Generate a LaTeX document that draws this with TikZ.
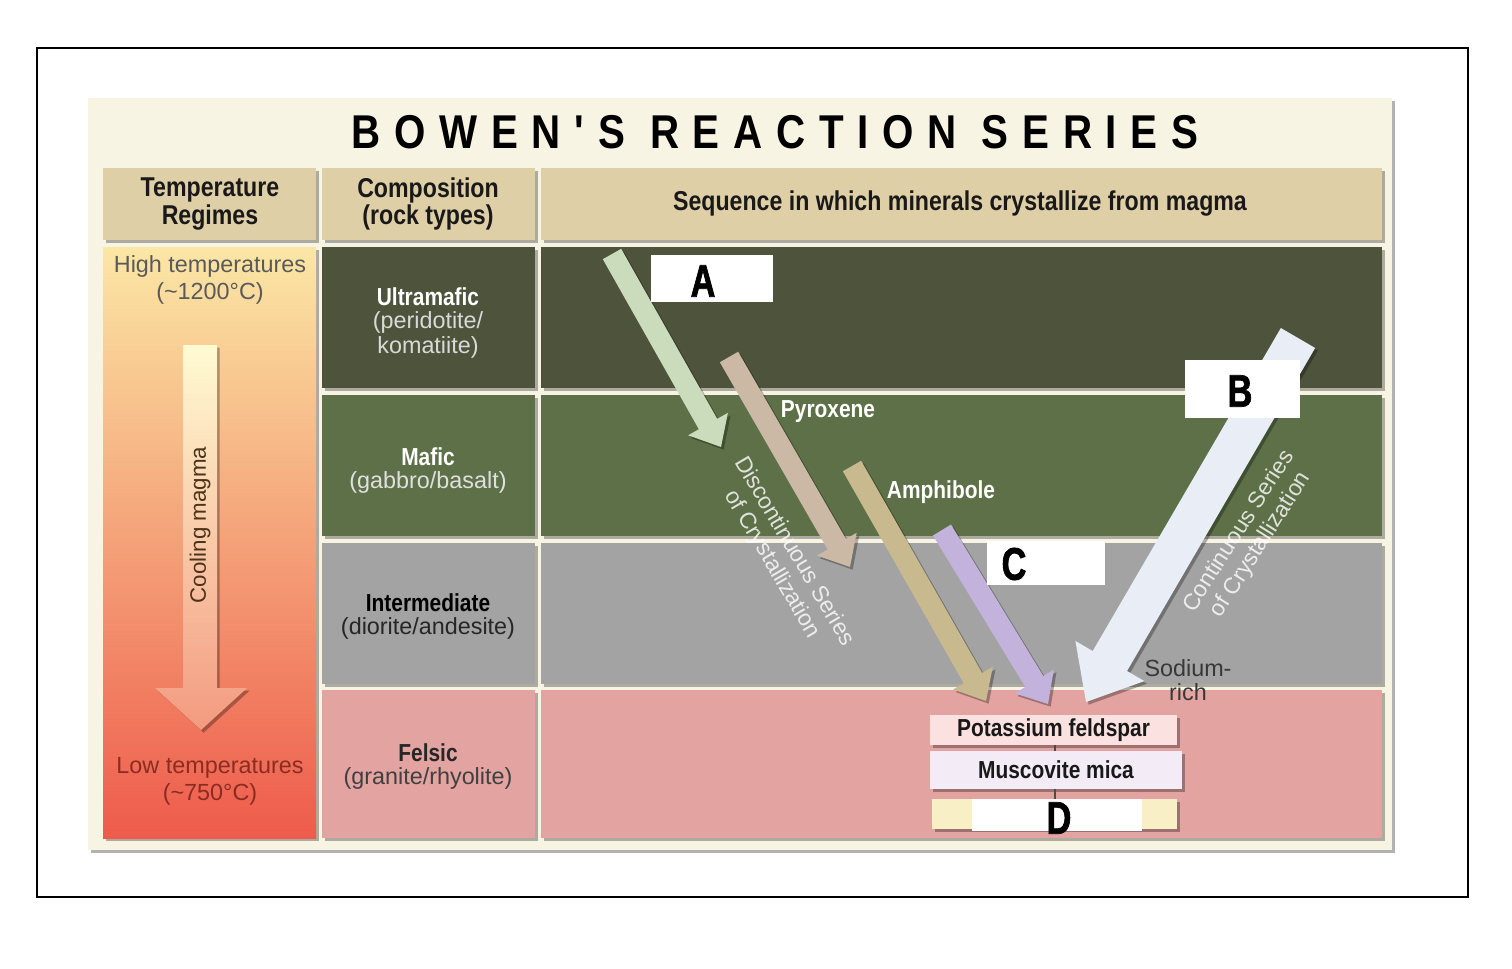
\documentclass[tikz,border=0pt]{standalone}
\usepackage{fontspec}
\setmainfont{Liberation Sans}
\newfontfamily\condfont[FakeStretch=0.85]{Liberation Sans}
\newfontfamily\titlefont[FakeStretch=0.85,LetterSpace=29]{Liberation Sans}
\newfontfamily\letterfont[FakeStretch=0.75,FakeBold=1.5]{Liberation Sans}
\usetikzlibrary{calc}
\usetikzlibrary{shadows}
\usetikzlibrary{positioning}

\definecolor{panelcream}{HTML}{F8F4E4}
\definecolor{headtan}{HTML}{DFCFA6}
\definecolor{ultragreen}{HTML}{4E543B}
\definecolor{maficgreen}{HTML}{5D7048}
\definecolor{intergray}{HTML}{A3A3A3}
\definecolor{felsicpink}{HTML}{E2A3A1}
\definecolor{temptop}{HTML}{FBE7A5}
\definecolor{tempmid}{HTML}{F5AE7D}
\definecolor{tempbot}{HTML}{EE5B4B}
\definecolor{cooltop}{HTML}{FFFBD2}
\definecolor{coolbot}{HTML}{F39A80}
\definecolor{olivinegreen}{HTML}{CADCBC}
\definecolor{pyroxenetan}{HTML}{CBB9A6}
\definecolor{amphiboletan}{HTML}{C9B98F}
\definecolor{biotitelilac}{HTML}{C3B3DC}
\definecolor{plagioclasewhite}{HTML}{E9EDF5}
\definecolor{hightext}{HTML}{5A5A5A}
\definecolor{lowtext}{HTML}{8B2C22}
\definecolor{kspar}{HTML}{FBE2E0}
\definecolor{muscovite}{HTML}{F3ECF6}
\definecolor{quartzyellow}{HTML}{F8EFC6}

% block arrow: style, from, to, half shaft, half head, head length
\newcommand{\crystarrow}[6]{%
    \coordinate (tipbase) at ($(#3)!#6!(#2)$);
    \fill[#1] ($(#2)!#4!90:(#3)$) -- ($(tipbase)!#4!90:(#3)$) -- ($(tipbase)!#5!90:(#3)$) -- (#3)
        -- ($(tipbase)!#5!-90:(#3)$) -- ($(tipbase)!#4!-90:(#3)$) -- ($(#2)!#4!-90:(#3)$) -- cycle;
}

\begin{document}
\begin{tikzpicture}[x=0.02cm, y=-0.02cm,
    cell/.style={drop shadow={shadow xshift=1.5pt, shadow yshift=-1.5pt, opacity=.3, fill=black}},
    headtext/.style={font=\condfont\bfseries\fontsize{15.5}{15.5}\selectfont, align=center, text=black!90},
    rockname/.style={font=\condfont\bfseries\fontsize{14}{14}\selectfont},
    rockdesc/.style={font=\fontsize{13.3}{14}\selectfont, align=center},
    tempdesc/.style={font=\fontsize{13.3}{15.3}\selectfont, align=center},
    mineral/.style={font=\condfont\bfseries\fontsize{14}{14}\selectfont, text=white},
    seriestext/.style={font=\fontsize{13}{14.5}\selectfont, align=center, text=white, text opacity=.8},
    blank/.style={fill=white},
    letter/.style={font=\letterfont\bfseries\fontsize{26}{26}\selectfont, text=black},
    mineralbox/.style={cell, font=\condfont\bfseries\fontsize{14}{14}\selectfont, text=black!90, inner sep=0pt}
]

    \useasboundingbox (0,0) rectangle (1512,968);
    \fill[white] (0,0) rectangle (1512,968);
    \draw[line width=1.6pt] (37,48) rectangle (1468,897);

    % panel and title
    \fill[panelcream, cell] (88,98) rectangle (1392,850);
    \node (title) at (775,132) {\titlefont\bfseries\fontsize{27}{27}\selectfont BOWEN'S REACTION SERIES};

    % header row
    \fill[headtan, cell] (103,168) rectangle (316,240);
    \fill[headtan, cell] (322,168) rectangle (535,240);
    \fill[headtan, cell] (541,168) rectangle (1382,240);
    \node[headtext] (temphead) at (210,204) {Temperature\\Regimes};
    \node[headtext] (comphead) at (428,204) {Composition\\(rock types)};
    \node[headtext] (seqhead) at (960,204) {Sequence in which minerals crystallize from magma};

    % temperature column
    \shade[top color=temptop, middle color=tempmid, bottom color=tempbot, cell] (103,247) rectangle (316,838);
    \node[tempdesc, text=hightext] (high) at (210,280) {High temperatures\\(\textasciitilde1200°C)};
    \node[tempdesc, text=lowtext] (low) at (210,781) {Low temperatures\\(\textasciitilde750°C)};
    \shade[top color=cooltop, bottom color=coolbot, cell] (183,345) -- (217,345) -- (217,688) -- (247,688)
        -- (201,730) -- (155,688) -- (183,688) -- cycle;
    \node[rotate=90, font=\fontsize{12.7}{14}\selectfont, text=black!60!brown] (cooling) at (200,525) {Cooling magma};

    % rock rows
    \foreach \top/\bot/\col in {247/388/ultragreen, 395/536/maficgreen, 543/684/intergray, 690/838/felsicpink} {
        \fill[\col, cell] (322,\top) rectangle (535,\bot);
        \fill[\col, cell] (541,\top) rectangle (1382,\bot);
    }
    \node[rockname, text=white] (ultra) at (428,297) {Ultramafic};
    \node[rockdesc, text=black!15] (ultradesc) at (428,335) {(peridotite/\\komatiite)};
    \node[rockname, text=white] (mafic) at (428,457) {Mafic};
    \node[rockdesc, text=black!12] (maficdesc) at (428,482) {(gabbro/basalt)};
    \node[rockname, text=black] (inter) at (428,603) {Intermediate};
    \node[rockdesc, text=black!85] (interdesc) at (428,628) {(diorite/andesite)};
    \node[rockname, text=black!85] (felsic) at (428,753) {Felsic};
    \node[rockdesc, text=black!75] (felsicdesc) at (428,778) {(granite/rhyolite)};

    % crystallization arrows
    \coordinate (olvtail) at (612,254);
    \coordinate (olvtip) at (721,447);
    \coordinate (pyxtail) at (729,357);
    \coordinate (pyxtip) at (850,567);
    \coordinate (amptail) at (852,466);
    \coordinate (amptip) at (986,701);
    \coordinate (biotail) at (942,530);
    \coordinate (biotip) at (1048,704);
    \coordinate (plagtail) at (1298,338);
    \coordinate (plagtip) at (1086,702);

    \crystarrow{olivinegreen, cell}{olvtail}{olvtip}{6pt}{13pt}{15pt}
    \crystarrow{pyroxenetan, cell}{pyxtail}{pyxtip}{6pt}{13pt}{15pt}
    \crystarrow{amphiboletan, cell}{amptail}{amptip}{6pt}{13pt}{15pt}
    \crystarrow{biotitelilac, cell}{biotail}{biotip}{6pt}{13pt}{15pt}
    \crystarrow{plagioclasewhite, cell}{plagtail}{plagtip}{11.3pt}{22.7pt}{27pt}

    \node[mineral] (pyx) at (828,412) {Pyroxene};
    \node[mineral] (amp) at (941,492) {Amphibole};
    \node[seriestext, rotate=-59.5] (discont) at (783,558) {Discontinuous Series\\of Crystallization};
    \node[seriestext, rotate=57.5] (cont) at (1250,538) {Continuous Series\\of Crystallization};
    \node[rockdesc, text=black!78] (sodium) at (1188,680) {Sodium-\\rich};

    % blanked labels
    \fill[blank] (651,255) rectangle (773,302);
    \node[letter] (labA) at (703,281) {A};
    \fill[blank] (1185,360) rectangle (1300,418);
    \node[letter] (labB) at (1240,391) {B};
    \fill[blank] (987,541) rectangle (1105,585);
    \node[letter] (labC) at (1014,564) {C};

    % felsic minerals
    \node[mineralbox, fill=kspar, minimum width=247*0.02cm, minimum height=30*0.02cm] (ksp) at (1053.5,730) {Potassium feldspar};
    \node[mineralbox, fill=muscovite, minimum width=252*0.02cm, minimum height=38*0.02cm] (musc) at (1056,770) {Muscovite mica};
    \node[mineralbox, fill=quartzyellow, minimum width=245*0.02cm, minimum height=30*0.02cm] (qtz) at (1054.5,814) {};
    \fill[blank] (972,799) rectangle (1142,831);
    \node[letter] (labD) at (1059,818) {D};
    \draw[black!70, line width=0.6pt] (ksp.south -| 1055,0) -- (musc.north -| 1055,0);
    \draw[black!70, line width=0.6pt] (musc.south -| 1055,0) -- (qtz.north -| 1055,0);

\end{tikzpicture}
\end{document}
